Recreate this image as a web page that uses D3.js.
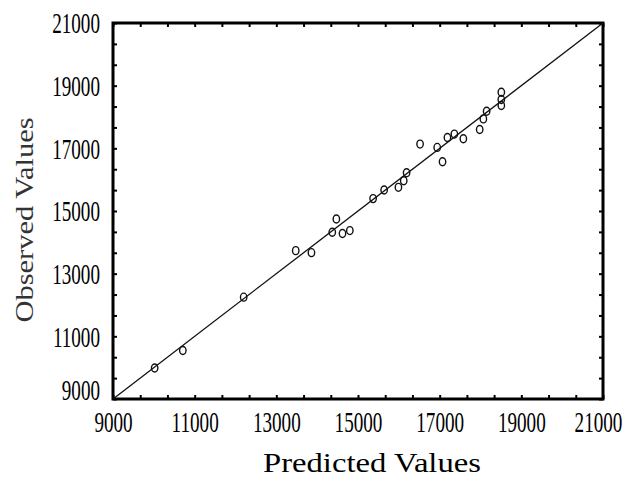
<!DOCTYPE html>
<html>
<head>
<meta charset="utf-8">
<script src="https://cdn.jsdelivr.net/npm/d3@7"></script>
<style>
  body { margin: 0; background: #fff; }
  svg { display: block; }
</style>
</head>
<body>
<svg id="chart" width="626" height="478"></svg>
<script>
// predicted (x) vs observed (y)
var predicted = [10020, 10710, 12200, 13475, 13860, 14370, 14470, 14620, 14800, 15370,
                 15640, 15990, 16120, 16190, 16520, 16940, 17070, 17190, 17360, 17580,
                 17980, 18070, 18150, 18510, 18510, 18510];
var observed  = [9990, 10550, 12250, 13735, 13670, 14320, 14745, 14280, 14375, 15395,
                 15670, 15755, 15965, 16220, 17135, 17030, 16570, 17345, 17455, 17305,
                 17600, 17940, 18185, 18790, 18560, 18365];
var tickLabels = [9000, 11000, 13000, 15000, 17000, 19000, 21000];
var axisDomain = [9000, 21000];

var svg = d3.select("#chart");
var pLeft = 113, pRight = 603, pTop = 23, pBottom = 399;

var x = d3.scaleLinear().domain(axisDomain).range([pLeft, pRight]);
var y = d3.scaleLinear().domain(axisDomain).range([pBottom, pTop]);

// minor ticks every 2000/3, on all four sides, pointing inward
var minor = d3.range(0, 19).map(function(i){ return 9000 + i * 2000 / 3; });
var tickLen = 4;

function styleTicks(g){
	g.select(".domain").remove();
	g.selectAll(".tick line").attr("stroke", "#000").attr("stroke-width", 2);
	g.selectAll(".tick text").remove();
}
svg.append("g").attr("transform", "translate(0," + pBottom + ")")
	.call(d3.axisBottom(x).tickValues(minor).tickSize(-tickLen)).call(styleTicks);
svg.append("g").attr("transform", "translate(0," + pTop + ")")
	.call(d3.axisTop(x).tickValues(minor).tickSize(-tickLen)).call(styleTicks);
svg.append("g").attr("transform", "translate(" + pLeft + ",0)")
	.call(d3.axisLeft(y).tickValues(minor).tickSize(-tickLen)).call(styleTicks);
svg.append("g").attr("transform", "translate(" + pRight + ",0)")
	.call(d3.axisRight(y).tickValues(minor).tickSize(-tickLen)).call(styleTicks);

// frame
svg.append("rect")
	.attr("x", pLeft).attr("y", pTop)
	.attr("width", pRight - pLeft).attr("height", pBottom - pTop)
	.attr("fill", "none").attr("stroke", "#000").attr("stroke-width", 3);

// tick labels (condensed serif)
var sx = 0.66;
var xl = svg.append("g").attr("transform", "translate(0," + pBottom + ")")
	.call(d3.axisBottom(x).tickValues(tickLabels).tickSize(0).tickFormat(d3.format("d")));
xl.select(".domain").remove();
xl.selectAll(".tick text")
	.attr("x", function(d){ return d === 21000 ? -5 / sx : 0; })
	.attr("y", 33).attr("dy", 0)
	.attr("transform", "scale(" + sx + ",1)")
	.style("font-family", "'Liberation Serif', serif").style("font-size", "29px")
	.attr("fill", "#000");

var yl = svg.append("g").attr("transform", "translate(" + pLeft + ",0)")
	.call(d3.axisLeft(y).tickValues(tickLabels).tickSize(0).tickFormat(d3.format("d")));
yl.select(".domain").remove();
yl.selectAll(".tick text")
	.attr("x", -13 / sx)
	.attr("dy", function(d){ return d === 9000 ? "0.02em" : "0.34em"; })
	.attr("transform", "scale(" + sx + ",1)")
	.style("font-family", "'Liberation Serif', serif").style("font-size", "29px")
	.attr("fill", "#000");

// axis titles
svg.append("text")
	.attr("x", 372).attr("y", 472)
	.attr("text-anchor", "middle")
	.attr("textLength", 218).attr("lengthAdjust", "spacingAndGlyphs")
	.style("font-family", "'Liberation Serif', serif").style("font-size", "27px")
	.text("Predicted Values");

svg.append("text")
	.attr("transform", "translate(33,220) rotate(-90)")
	.attr("text-anchor", "middle")
	.attr("textLength", 205).attr("lengthAdjust", "spacingAndGlyphs")
	.style("font-family", "'Liberation Serif', serif").style("font-size", "25px")
	.attr("fill", "#333")
	.text("Observed Values");

// line of perfect fit
svg.append("line")
	.attr("x1", x(axisDomain[0])).attr("y1", y(axisDomain[0]))
	.attr("x2", x(axisDomain[1])).attr("y2", y(axisDomain[1]))
	.attr("stroke", "#111").attr("stroke-width", 1.3);

// points
var pts = predicted.map(function(p, i){ return { p: p, o: observed[i] }; });
svg.selectAll("ellipse.pt")
	.data(pts)
	.enter()
	.append("ellipse")
	.attr("class", "pt")
	.attr("cx", function(d){ return x(d.p); })
	.attr("cy", function(d){ return y(d.o); })
	.attr("rx", 3.2).attr("ry", 4)
	.attr("fill", "none")
	.attr("stroke", "#111")
	.attr("stroke-width", 1.4);
</script>
</body>
</html>
